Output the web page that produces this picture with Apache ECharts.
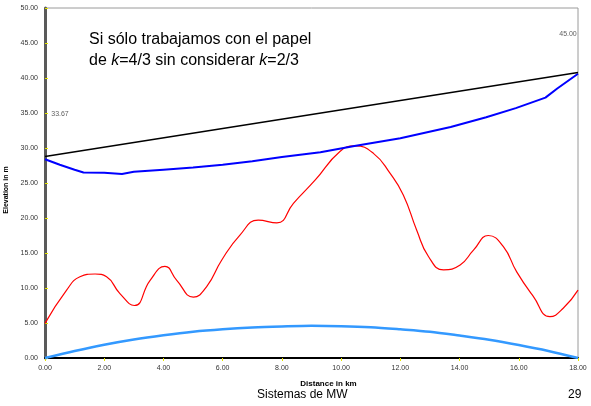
<!DOCTYPE html>
<html>
<head>
<meta charset="utf-8">
<script src="https://cdn.jsdelivr.net/npm/echarts@6/dist/echarts.min.js"></script>
<style>
  html, body { margin: 0; padding: 0; background: #fff; }
  #chart { width: 591px; height: 406px; }
</style>
</head>
<body>
<div id="chart"></div>
<script>
// Line-of-sight profile over an 18 km MW hop
const xTicks = [0, 2, 4, 6, 8, 10, 12, 14, 16, 18];

// Straight ray between the two antennas
const rayKm = [0, 18];
const rayElev = [28.8, 40.8];

// Clearance line (first Fresnel / k-factor envelope)
const clearKm = [0, 0.5, 1.0, 1.3, 2.0, 2.02, 2.6, 3.0, 4.0, 5.0, 6.0, 7.0, 8.0, 9.3, 10.45, 12.0, 13.7, 14.9, 15.9, 16.9, 17.3, 18];
const clearElev = [28.4, 27.6, 26.9, 26.5, 26.45, 26.3, 26.3, 26.6, 26.9, 27.2, 27.6, 28.1, 28.7, 29.4, 30.3, 31.4, 33.0, 34.4, 35.7, 37.2, 38.5, 40.6];

// Terrain elevation along the path
const terrainKm = [0, 0.73, 1.18, 1.69, 2.08, 2.53, 3.02, 3.55, 4.05, 4.45, 5.01, 5.46, 5.97, 6.59, 7.2, 7.83, 8.39, 9.12, 9.96, 10.47, 11.1, 11.65, 12.1, 12.55, 12.95, 13.46, 14.02, 14.47, 14.97, 15.48, 15.93, 16.49, 17.05, 17.5, 18];
const terrainElev = [4.95, 9.7, 11.6, 12.0, 11.6, 9.2, 7.5, 11.1, 13.1, 11.1, 8.7, 10.2, 14.0, 17.6, 19.7, 19.3, 22.1, 25.4, 29.5, 30.3, 29.2, 26.4, 23.3, 18.3, 14.5, 12.6, 13.3, 15.4, 17.5, 15.9, 12.3, 8.8, 5.9, 7.1, 9.7];

// Earth bulge
const bulgeKm = [0, 1, 2, 3, 4, 5, 6, 7, 8, 9, 10, 11, 12, 13, 14, 15, 16, 17, 18];
const bulgeElev = [0, 1.0, 1.9, 2.65, 3.25, 3.75, 4.1, 4.35, 4.5, 4.6, 4.55, 4.4, 4.1, 3.75, 3.2, 2.6, 1.85, 1.0, 0];

// Antenna heights
const antKm = [0, 18];
const antElev = [33.67, 45.00];

const pairs = (xs, ys) => xs.map((x, i) => [x, ys[i]]);
const FONT = '"Liberation Sans", Arial, sans-serif';

const chart = echarts.init(document.getElementById('chart'), null, { renderer: 'canvas' });

chart.setOption({
  animation: false,
  backgroundColor: '#ffffff',
  grid: {
    left: 45, right: 13, top: 8, bottom: 48,
    outerBoundsMode: 'none', containLabel: false,
    show: true, borderColor: '#9a9a9a', borderWidth: 1, backgroundColor: 'transparent'
  },
  xAxis: {
    type: 'value',
    min: 0, max: 18, interval: 2,
    name: 'Distance in km',
    nameLocation: 'middle',
    nameGap: 22,
    nameTextStyle: { fontFamily: FONT, fontSize: 8, fontWeight: 'bold', color: '#000', padding: [0, 0, 0, 34] },
    axisLine: { show: true, onZero: false, lineStyle: { color: '#000', width: 2 } },
    axisTick: { show: true, length: 3, lineStyle: { color: '#e6e600', width: 1 } },
    axisLabel: {
      fontFamily: FONT, fontSize: 7, color: '#333', margin: 7,
      formatter: v => v.toFixed(2)
    },
    splitLine: { show: false }
  },
  yAxis: {
    type: 'value',
    min: 0, max: 50, interval: 5,
    name: 'Elevation in m',
    nameLocation: 'middle',
    nameGap: 33,
    nameRotate: 90,
    nameTextStyle: { fontFamily: FONT, fontSize: 7, fontWeight: 'bold', color: '#000', padding: [0, 14, 0, 0] },
    axisLine: { show: true, lineStyle: { color: '#5a5a5a', width: 3 } },
    axisTick: { show: true, length: 3, inside: true, lineStyle: { color: '#e6e600', width: 1 } },
    axisLabel: {
      fontFamily: FONT, fontSize: 7, color: '#333', margin: 7,
      formatter: v => v.toFixed(2)
    },
    splitLine: { show: false }
  },
  series: [
    {
      name: 'Earth bulge', type: 'line', data: pairs(bulgeKm, bulgeElev),
      smooth: 0.3, showSymbol: false, z: 2,
      lineStyle: { color: '#3399ff', width: 2.5 }
    },
    {
      name: 'Terrain', type: 'line', data: pairs(terrainKm, terrainElev),
      smooth: 0.5, showSymbol: false, z: 3,
      lineStyle: { color: '#ff0000', width: 1.2 }
    },
    {
      name: 'Clearance', type: 'line', data: pairs(clearKm, clearElev),
      smooth: false, showSymbol: false, z: 4,
      lineStyle: { color: '#0000ff', width: 2 }
    },
    {
      name: 'Ray', type: 'line', data: pairs(rayKm, rayElev),
      showSymbol: false, z: 5,
      lineStyle: { color: '#000000', width: 1.5 }
    },
    {
      name: 'Antennas', type: 'scatter', data: pairs(antKm, antElev),
      symbolSize: 0, z: 6,
      label: {
        show: true, position: 'top', distance: 5,
        fontFamily: FONT, fontSize: 7, color: '#333',
        formatter: p => p.value[1].toFixed(2)
      },
      labelLayout: p => ({ dx: p.dataIndex === 0 ? 15 : -10 })
    }
  ],
  graphic: [
    {
      type: 'text', left: 89, top: 29,
      style: {
        text: 'Si sólo trabajamos con el papel\nde {i|k}=4/3 sin considerar {i|k}=2/3',
        font: '16px ' + FONT, fill: '#000', lineHeight: 21,
        rich: { i: { fontStyle: 'italic', fontSize: 16, fontFamily: FONT, fill: '#000' } }
      }
    },
    {
      type: 'text', left: 257, top: 389,
      style: { text: 'Sistemas de MW', font: '12px ' + FONT, fill: '#000' }
    },
    {
      type: 'text', left: 568, top: 389,
      style: { text: '29', font: '12px ' + FONT, fill: '#000' }
    }
  ]
});
</script>
</body>
</html>
